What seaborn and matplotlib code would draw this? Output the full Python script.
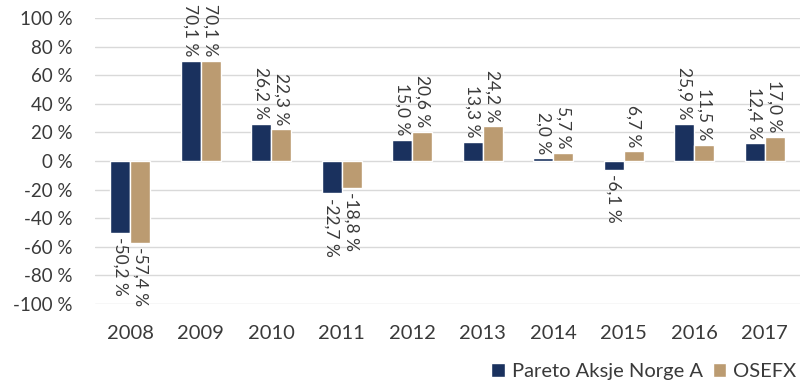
import matplotlib
matplotlib.use("Agg")
import matplotlib.pyplot as plt
import seaborn as sns
import pandas as pd
from matplotlib.ticker import FixedLocator, FuncFormatter

years = ["2008", "2009", "2010", "2011", "2012", "2013", "2014", "2015", "2016", "2017"]
pareto = [-50.2, 70.1, 26.2, -22.7, 15.0, 13.3, 2.0, -6.1, 25.9, 12.4]
osefx = [-57.4, 70.1, 22.3, -18.8, 20.6, 24.2, 5.7, 6.7, 11.5, 17.0]
series_names = ["Pareto Aksje Norge A", "OSEFX"]
y_ticks = [-100, -80, -60, -40, -20, 0, 20, 40, 60, 80, 100]

navy = "#1a315e"
tan = "#bb9b71"
text_col = "#3a3a3a"

df = pd.DataFrame({
    "year": years * 2,
    "value": pareto + osefx,
    "series": [series_names[0]] * len(years) + [series_names[1]] * len(years),
})

sns.set_theme(style="white")
plt.rcParams["font.family"] = ["Lato", "DejaVu Sans"]

fig = plt.figure(figsize=(8.06, 3.80), dpi=100)
ax = fig.add_axes([95 / 806, 1 - 304 / 380, 705 / 806, 286 / 380])

sns.barplot(data=df, x="year", y="value", hue="series", order=years,
            hue_order=series_names, palette=[navy, tan], width=0.57,
            errorbar=None, saturation=1, ax=ax, zorder=3, legend=True)

ax.set_ylim(-100, 100)
ax.set_xlim(-0.5, len(years) - 0.5)
ax.yaxis.set_major_locator(FixedLocator(y_ticks))
ax.yaxis.set_major_formatter(FuncFormatter(lambda v, _: f"{int(round(v))} %"))
ax.grid(axis="y", color="#d9d9d9", linewidth=1, zorder=0)
ax.set_axisbelow(True)
for s in ax.spines.values():
    s.set_visible(False)
ax.set_xlabel("")
ax.set_ylabel("")
ax.tick_params(axis="y", length=0, labelsize=13.5, labelcolor=text_col, pad=16)
ax.tick_params(axis="x", length=0, labelsize=14.5, labelcolor=text_col, pad=15)

for cont, vals in zip(ax.containers, [pareto, osefx]):
    ax.bar_label(cont, labels=[f"{v:.1f} %".replace(".", ",") for v in vals],
                 rotation=-90, padding=3, fontsize=12.5, color=text_col)

handles, labels = ax.get_legend_handles_labels()
ax.legend(handles, labels, loc="lower right", bbox_to_anchor=(1.0 + 4 / 705, -84 / 286),
          ncol=2, frameon=False, fontsize=14.5, handlelength=0.65, handleheight=0.65,
          handletextpad=0.35, columnspacing=0.5, labelcolor=text_col, borderaxespad=0)

fig.savefig("out.png", dpi=100)
